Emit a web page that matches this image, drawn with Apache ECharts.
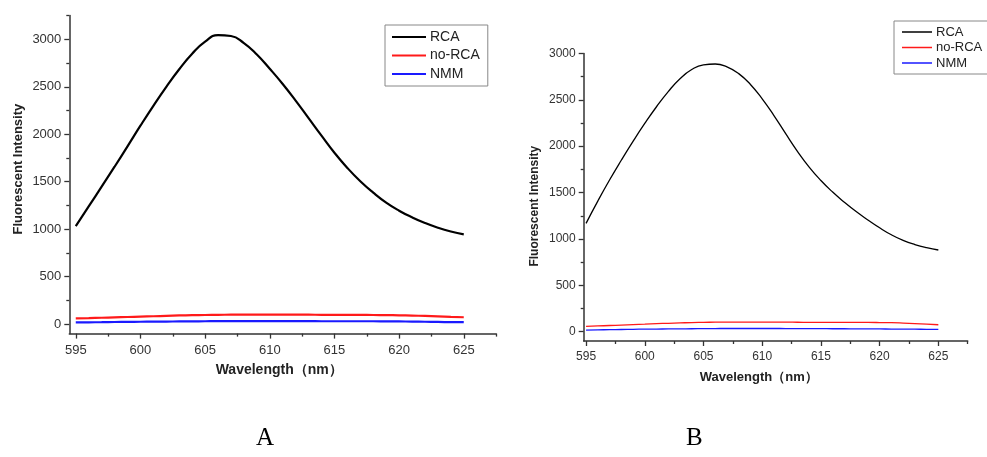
<!DOCTYPE html>
<html>
<head>
<meta charset="utf-8">
<script src="https://cdn.jsdelivr.net/npm/echarts@6/dist/echarts.min.js"></script>
<style>
html,body{margin:0;padding:0;background:#fff;}
#chart{width:987px;height:457px;}
</style>
</head>
<body>
<div id="chart"></div>
<script>
// ---- data ----
const wavelengths = [595,596,597,598,599,600,601,602,603,604,605,606,607,608,609,610,611,612,613,614,615,616,617,618,619,620,621,622,623,624,625];

const rcaA   = [1033,1240,1448,1658,1872,2090,2300,2500,2685,2848,2975,3045,3035,2960,2840,2690,2530,2355,2170,1985,1805,1645,1505,1385,1280,1195,1125,1065,1015,975,945];
const noRcaA = [60,63,67,71,75,79,83,87,91,94,96,98,99,100,100,100,100,99,99,98,98,98,97,96,95,93,90,86,81,76,72];
const nmmA   = [18,19,20,22,23,25,26,27,28,29,30,31,31,32,32,32,31,31,31,30,30,30,30,30,29,28,27,25,23,21,20];

const rcaB   = [1168,1408,1635,1848,2052,2245,2425,2588,2727,2826,2877,2886,2855,2782,2665,2510,2330,2135,1945,1775,1630,1505,1395,1295,1205,1120,1045,985,940,906,881];
const noRcaB = [57,62,67,72,77,82,87,91,95,99,101,103,104,104,104,103,103,103,102,101,100,100,100,100,100,99,97,93,88,82,75];
const nmmB   = [18,20,22,24,26,28,29,30,31,32,33,34,35,35,35,35,35,34,34,33,33,32,32,31,31,30,29,28,27,26,25];

const seriesNames = ['RCA','no-RCA','NMM'];
const xMajorTicks = [595,600,605,610,615,620,625];
const xMinorTicks = [597.5,602.5,607.5,612.5,617.5,622.5,627.5];
const yMajorTicks = [0,500,1000,1500,2000,2500,3000];
const yMinorTicksA = [250,750,1250,1750,2250,2750,3250];
const yMinorTicksB = [250,750,1250,1750,2250,2750];
const panelLabels = ['A','B'];
const xTitle = 'Wavelength（nm）';
const yTitle = 'Fluorescent Intensity';

// ---- helpers ----
const pairs = (ys) => wavelengths.map((w,i)=>[w, ys[i]]);
const AX = '#333';
const colors = ['#000000','#ff1a1a','#1a1aff'];
const plain = (v) => String(v);

function xAxes(gridIndex, min, max, fontSize, labelMargin, namePad, nameGap, nameSize){
  return [
    {type:'value', gridIndex, min, max, position:'bottom',
     axisLine:{show:true, onZero:false, lineStyle:{color:AX, width:1.5}},
     axisTick:{show:true, length:5, customValues:xMajorTicks, lineStyle:{color:AX, width:1.3}},
     axisLabel:{show:true, customValues:xMajorTicks, formatter:plain, color:'#333', fontSize, fontFamily:'Liberation Sans, Arial', margin:labelMargin},
     splitLine:{show:false},
     name:xTitle, nameLocation:'middle', nameGap,
     nameTextStyle:{fontFamily:'Liberation Sans, Arial', fontWeight:'bold', fontSize:nameSize, color:'#222', padding:namePad}
    },
    {type:'value', gridIndex, min, max, position:'bottom',
     axisLine:{show:false, onZero:false},
     axisTick:{show:true, length:3, customValues:xMinorTicks, lineStyle:{color:AX, width:1.3}},
     axisLabel:{show:false}, splitLine:{show:false}
    }
  ];
}
function yAxes(gridIndex, min, max, minor, fontSize, nameGap, namePad, nameSize){
  return [
    {type:'value', gridIndex, min, max, position:'left',
     axisLine:{show:true, onZero:false, lineStyle:{color:AX, width:1.5}},
     axisTick:{show:true, length:5, customValues:yMajorTicks, lineStyle:{color:AX, width:1.3}},
     axisLabel:{show:true, customValues:yMajorTicks, formatter:plain, color:'#333', fontSize, fontFamily:'Liberation Sans, Arial', margin:8},
     splitLine:{show:false},
     name:yTitle, nameLocation:'middle', nameGap,
     nameTextStyle:{fontFamily:'Liberation Sans, Arial', fontWeight:'bold', fontSize:nameSize, color:'#222', padding:namePad}
    },
    {type:'value', gridIndex, min, max, position:'left',
     axisLine:{show:false, onZero:false},
     axisTick:{show:true, length:3, customValues:minor, lineStyle:{color:AX, width:1.3}},
     axisLabel:{show:false}, splitLine:{show:false}
    }
  ];
}

function lineSeries(name, data, xi, yi, color, width){
  return {type:'line', name, data, xAxisIndex:xi, yAxisIndex:yi, symbol:'none', showSymbol:false,
          smooth:0.5, lineStyle:{color, width}, itemStyle:{color}, silent:true, animation:false};
}

const dataA = [rcaA, noRcaA, nmmA];
const dataB = [rcaB, noRcaB, nmmB];

const series = [];
seriesNames.forEach((n,i)=>series.push(lineSeries(n, pairs(dataA[i]), 0, 0, colors[i], 2.2)));
seriesNames.forEach((n,i)=>series.push(lineSeries(n+' ', pairs(dataB[i]), 2, 2, colors[i], 1.3)));

const option = {
  backgroundColor:'#fff',
  animation:false,
  grid:[
    {left:69.3, top:15.6, width:426.8, height:318, containLabel:false},
    {left:583.7, top:53.4, width:384, height:287.6, containLabel:false}
  ],
  xAxis:[
    ...xAxes(0, 594.5, 627.5, 13, 10, [0,7,0,0], 30, 14),
    ...xAxes(1, 594.8, 627.5, 12, 10, [0,34,0,0], 30, 13)
  ],
  yAxis:[
    ...yAxes(0, -100, 3250, yMinorTicksA, 13, 44, [0,0,0,11], 13),
    ...yAxes(1, -100, 3000, yMinorTicksB, 12, 43, [0,18,0,0], 12)
  ],
  legend:[
    {orient:'vertical', left:385, top:25, data:seriesNames, icon:'rect',
     itemWidth:34, itemHeight:2.2, itemGap:2.5, padding:[4,8,4,7],
     borderColor:'#888', borderWidth:1, selectedMode:false,
     textStyle:{fontFamily:'Liberation Sans, Arial', fontSize:14, lineHeight:16, color:'#222', padding:[0,0,0,-1]}},
    {orient:'vertical', left:894, top:21, data:seriesNames.map(n=>n+' '), icon:'rect',
     itemWidth:30, itemHeight:1.5, itemGap:1.5, padding:[4,12,4,8],
     borderColor:'#888', borderWidth:1, selectedMode:false,
     formatter:(n)=>n.trim(),
     textStyle:{fontFamily:'Liberation Sans, Arial', fontSize:13, lineHeight:14, color:'#222', padding:[0,0,0,-1]}}
  ],
  graphic:[
    {type:'text', left:265-9, top:426, style:{text:panelLabels[0], font:'25px "Liberation Serif", "Times New Roman", serif', fill:'#000'}},
    {type:'text', left:694-8, top:426, style:{text:panelLabels[1], font:'25px "Liberation Serif", "Times New Roman", serif', fill:'#000'}}
  ],
  series
};

const chart = echarts.init(document.getElementById('chart'), null, {renderer:'canvas'});
chart.setOption(option);
</script>
</body>
</html>
